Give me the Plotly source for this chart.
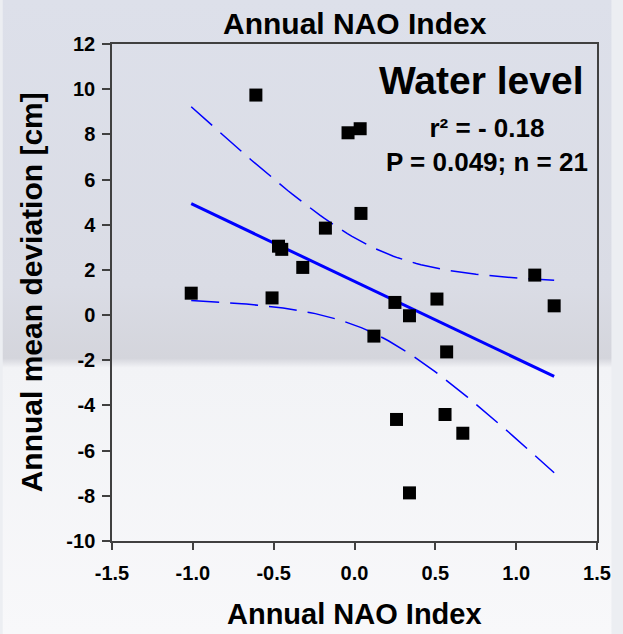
import base64
import numpy as np
import plotly.graph_objects as go

# ---- data ----
nao_index = [-1.01, -0.61, -0.04, 0.035, 0.04, -0.18, -0.47, -0.45, -0.32, -0.51,
             1.115, 1.235, 0.51, 0.25, 0.34, 0.12, 0.57, 0.26, 0.56, 0.67, 0.34]
water_dev = [0.97, 9.74, 8.07, 8.25, 4.50, 3.85, 3.05, 2.91, 2.11, 0.76,
             1.77, 0.41, 0.71, 0.56, -0.03, -0.93, -1.63, -4.62, -4.40, -5.23, -7.87]
x_tick_vals = [-1.5, -1.0, -0.5, 0.0, 0.5, 1.0, 1.5]
x_tick_text = ["-1.5", "-1.0", "-0.5", "0.0", "0.5", "1.0", "1.5"]
y_tick_vals = [-10, -8, -6, -4, -2, 0, 2, 4, 6, 8, 10, 12]
y_tick_text = ["-10", "-8", "-6", "-4", "-2", "0", "2", "4", "6", "8", "10", "12"]
t_crit = 2.093  # 95 %, df = 19

# ---- linear regression with 95% confidence band ----
x = np.array(nao_index)
y = np.array(water_dev)
n = len(x)
b, a = np.polyfit(x, y, 1)
xf = np.linspace(x.min(), x.max(), 80)
yf = a + b * xf
resid = y - (a + b * x)
s = np.sqrt(np.sum(resid ** 2) / (n - 2))
sxx = np.sum((x - x.mean()) ** 2)
half = t_crit * s * np.sqrt(1.0 / n + (xf - x.mean()) ** 2 / sxx)

FONT = "Arial, Liberation Sans, Helvetica, sans-serif"
AXC = "#404040"

# background (photo-like gradient)
svg = (
    "<svg xmlns='http://www.w3.org/2000/svg' width='623' height='634' preserveAspectRatio='none'>"
    "<defs><linearGradient id='g' x1='0' y1='0' x2='0' y2='1'>"
    "<stop offset='0' stop-color='#dde0ea'/>"
    "<stop offset='0.45' stop-color='#dadce5'/>"
    "<stop offset='0.565' stop-color='#d4d5dc'/>"
    "<stop offset='0.58' stop-color='#f2f3f6'/>"
    "<stop offset='1' stop-color='#f8f8fa'/>"
    "</linearGradient></defs>"
    "<rect width='623' height='634' fill='url(#g)'/></svg>"
)
bg_src = "data:image/svg+xml;base64," + base64.b64encode(svg.encode()).decode()

fig = go.Figure()
fig.add_trace(go.Scatter(x=xf, y=yf + half, mode="lines",
                         line=dict(color="#0000ff", width=1.5, dash="28px,11px"),
                         hoverinfo="skip", showlegend=False))
fig.add_trace(go.Scatter(x=xf, y=yf - half, mode="lines",
                         line=dict(color="#0000ff", width=1.5, dash="28px,11px"),
                         hoverinfo="skip", showlegend=False))
fig.add_trace(go.Scatter(x=xf, y=yf, mode="lines",
                         line=dict(color="#0000ff", width=3),
                         hoverinfo="skip", showlegend=False))
fig.add_trace(go.Scatter(x=nao_index, y=water_dev, mode="markers",
                         marker=dict(symbol="square", size=13, color="black"),
                         showlegend=False))

L, R, T, B = 112, 15, 44, 93
W, H = 623, 634
pw, ph = W - L - R, H - T - B

fig.update_layout(
    width=W, height=H,
    margin=dict(l=L, r=R, t=T, b=B),
    paper_bgcolor="#eceef2",
    plot_bgcolor="rgba(0,0,0,0)",
    font=dict(family=FONT, color="black"),
    images=[dict(source=bg_src, xref="paper", yref="paper",
                 x=-L / pw, y=1 + T / ph, sizex=W / pw, sizey=H / ph,
                 xanchor="left", yanchor="top", sizing="stretch", layer="below")],
    xaxis=dict(range=[-1.5, 1.5], tickvals=x_tick_vals, ticktext=x_tick_text,
               showgrid=False, zeroline=False, showline=True, linecolor=AXC,
               linewidth=1.5, mirror=True, ticks="outside", ticklen=7,
               tickwidth=1.5, tickcolor=AXC, ticklabelstandoff=6,
               tickfont=dict(family=FONT, size=20, color="black", weight="bold")),
    yaxis=dict(range=[-10, 12], tickvals=y_tick_vals, ticktext=y_tick_text,
               showgrid=False, zeroline=False, showline=True, linecolor=AXC,
               linewidth=1.5, mirror=True, ticks="outside", ticklen=8,
               tickwidth=1.5, tickcolor=AXC, ticklabelstandoff=3,
               tickfont=dict(family=FONT, size=20, color="black", weight="bold")),
    annotations=[
        dict(text="<b>Annual NAO Index</b>", xref="paper", yref="paper",
             x=0.5, y=1 + (T - 23) / ph, xanchor="center", yanchor="middle",
             showarrow=False, font=dict(size=30)),
        dict(text="<b>Annual NAO Index</b>", xref="paper", yref="paper",
             x=0.5, y=-(632 - (H - B)) / ph, xanchor="center", yanchor="bottom",
             showarrow=False, font=dict(size=29)),
        dict(text="<b>Annual mean deviation [cm]</b>", xref="paper", yref="paper",
             x=-(L - 30) / pw, y=0.5, xanchor="center", yanchor="middle",
             textangle=-90, showarrow=False, font=dict(size=30)),
        dict(text="<b>Water level</b>", xref="paper", yref="paper",
             x=(596 - L) / pw, y=1 - (80 - T) / ph, xanchor="right", yanchor="middle",
             showarrow=False, font=dict(size=39)),
        dict(text="<b>r² = - 0.18<br>P = 0.049; n = 21</b>", xref="paper", yref="paper",
             x=(495 - L) / pw, y=1 - (145 - T) / ph, xanchor="center", yanchor="middle",
             align="center", showarrow=False, font=dict(size=26)),
    ],
)

fig.write_html("out.html")
